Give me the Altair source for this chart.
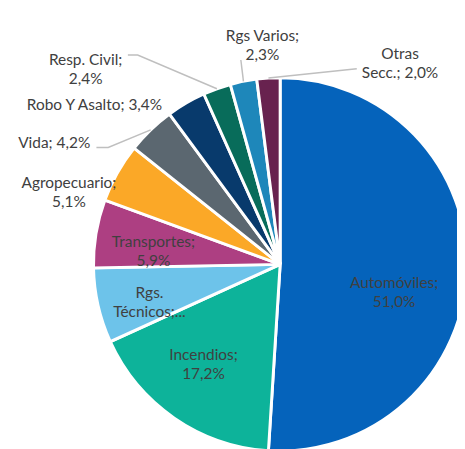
import math
import altair as alt
import pandas as pd

# ---- data ----
categories = ["Automóviles", "Incendios", "Rgs. Técnicos", "Transportes", "Agropecuario",
              "Vida", "Robo Y Asalto", "Resp. Civil", "Rgs Varios", "Otras Secc."]
shares = [51.0, 17.2, 6.5, 5.9, 5.1, 4.2, 3.4, 2.4, 2.3, 2.0]
label_texts = ["Automóviles;\n51,0%", "Incendios;\n17,2%", "Rgs.\nTécnicos;...", "Transportes;\n5,9%",
               "Agropecuario;\n5,1%", "Vida; 4,2%", "Robo Y Asalto; 3,4%", "Resp. Civil;\n2,4%",
               "Rgs Varios;\n2,3%", "Otras\nSecc.; 2,0%"]
colors = ["#0563BB", "#0DB39A", "#6DC3EA", "#AD3F82", "#FBA827", "#5B6770",
          "#083A6C", "#086C5A", "#1E87BA", "#68224F"]

# ---- layout (style) ----
W, H = 457, 441
CX, CY, R = 277, 257, 190
label_offset = {
    "Automóviles": (116, 19), "Incendios": (-78, 92), "Rgs. Técnicos": (-133, 29),
    "Transportes": (-129, -23), "Agropecuario": (-215, -83), "Vida": (-230, -123),
    "Robo Y Asalto": (-189, -162), "Resp. Civil": (-198, -208), "Rgs Varios": (-18, -232),
    "Otras Secc.": (122, -214),
}
leader_waypoints = {
    "Vida": [(-175, -119), (-187, -119)],
    "Resp. Civil": [(-145, -213), (-155, -213)],
    "Rgs Varios": [(-40, -208)],
    "Otras Secc.": [(78, -199)],
}

df = pd.DataFrame({"cat": categories, "val": shares, "idx": range(len(categories)),
                   "label": label_texts})
df["lx"] = [CX + label_offset[c][0] for c in categories]
df["ly"] = [CY + label_offset[c][1] for c in categories]

# mid-angles from data for leader lines
total = sum(shares)
cum = 0.0
rows = []
for c, v in zip(categories, shares):
    mid = (cum + v / 2) / total * 2 * math.pi
    cum += v
    if c in leader_waypoints:
        pts = [(CX + R * math.sin(mid), CY - R * math.cos(mid))]
        pts += [(CX + dx, CY + dy) for dx, dy in leader_waypoints[c]]
        for i, (x, y) in enumerate(pts):
            rows.append({"cat": c, "seq": i, "x": x, "y": y})
lines_df = pd.DataFrame(rows)

pie = alt.Chart(df).mark_arc(radius=R, stroke="white", strokeWidth=3).encode(
    theta=alt.Theta("val:Q", stack=True),
    order=alt.Order("idx:Q"),
    color=alt.Color("cat:N", scale=alt.Scale(domain=categories, range=colors), legend=None,
                    sort=categories),
    x=alt.value(CX),
    y=alt.value(CY),
)

leaders = alt.Chart(lines_df).mark_line(color="#BFBFBF", strokeWidth=1.5).encode(
    x=alt.X("x:Q", scale=None, axis=None),
    y=alt.Y("y:Q", scale=None, axis=None),
    detail="cat:N",
    order="seq:Q",
)

labels = alt.Chart(df).mark_text(font="Lato", fontSize=15.7, color="#404040", align="center",
                                 baseline="middle", lineBreak="\n", lineHeight=19.5).encode(
    x=alt.X("lx:Q", scale=None, axis=None),
    y=alt.Y("ly:Q", scale=None, axis=None),
    text="label:N",
)

chart = alt.layer(pie, leaders, labels).properties(
    width=W, height=H, padding=0, autosize=alt.AutoSizeParams(type="none")
).configure_view(stroke=None)

chart.save("out.html", embed_options={"renderer": "svg", "actions": False})
